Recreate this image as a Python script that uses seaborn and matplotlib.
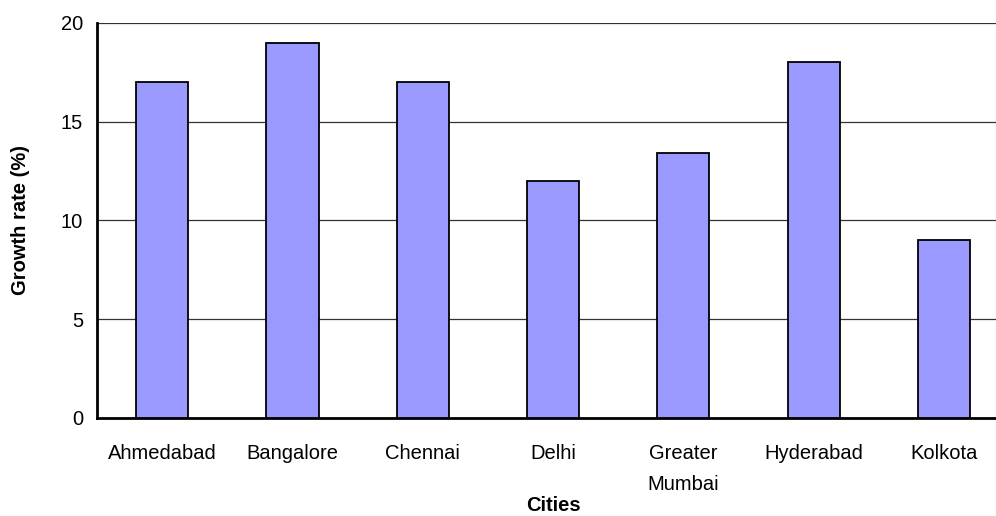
import matplotlib
matplotlib.use('Agg')
import matplotlib.pyplot as plt
import seaborn as sns
import pandas as pd

cities = ['Ahmedabad', 'Bangalore', 'Chennai', 'Delhi', 'Greater\nMumbai', 'Hyderabad', 'Kolkota']
growth = [17, 19, 17, 12, 13.4, 18, 9]
y_ticks = [0, 5, 10, 15, 20]

df = pd.DataFrame({'city': cities, 'growth': growth})

sns.set_style('white')
plt.rcParams['font.family'] = ['Liberation Sans', 'DejaVu Sans']
plt.rcParams['text.color'] = 'black'
plt.rcParams['axes.labelcolor'] = 'black'
plt.rcParams['xtick.color'] = 'black'
plt.rcParams['ytick.color'] = 'black'

fig = plt.figure(figsize=(9.96, 5.16), dpi=100)
ax = fig.add_axes([0.0974, 0.19, 0.9157, 0.7655])

sns.barplot(data=df, x='city', y='growth', color='#9999FF', saturation=1,
            width=0.4, edgecolor='black', linewidth=1.3, ax=ax, zorder=3)

ax.set_xlim(-0.5, len(cities) - 0.5)
ax.set_ylim(0, 20)
ax.set_yticks(y_ticks)
ax.yaxis.grid(True, color='#333333', linewidth=0.9, zorder=0)
ax.set_axisbelow(True)

# category boundary ticks, like a spreadsheet chart
ax.set_xticks([i + 0.5 for i in range(-1, len(cities))], minor=True)
ax.tick_params(axis='x', which='minor', length=5, width=0.8, color='#555555', direction='out')
ax.tick_params(axis='x', which='major', length=0, pad=19, labelsize=14.5)
ax.tick_params(axis='y', length=5, width=0.8, color='#555555', direction='out', labelsize=14.5, pad=5)
for lbl in ax.get_xticklabels():
    lbl.set_linespacing(1.75)

for s in ['top', 'right']:
    ax.spines[s].set_visible(False)
for s in ['left', 'bottom']:
    ax.spines[s].set_color('black')
    ax.spines[s].set_linewidth(2)

ax.set_xlabel('Cities', fontsize=14.5, fontweight='bold', labelpad=2)
ax.set_ylabel('Growth rate (%)', fontsize=14.5, fontweight='bold', labelpad=22)

fig.savefig('out.png', dpi=100)
